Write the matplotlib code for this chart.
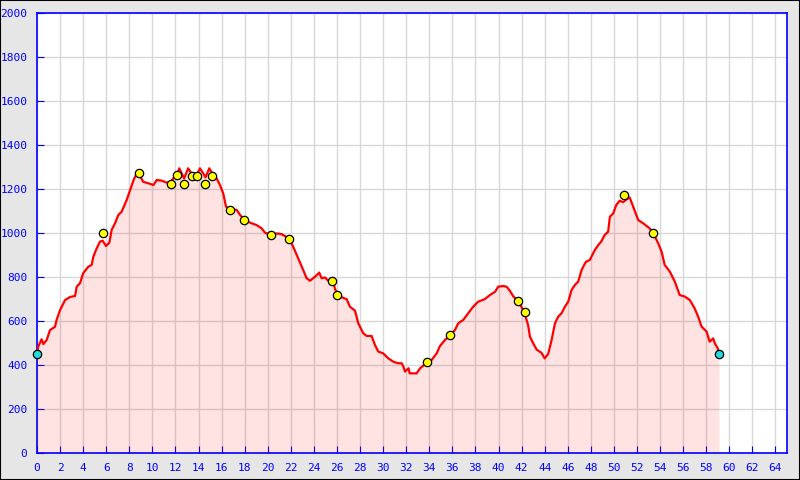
import matplotlib.pyplot as plt
from matplotlib.patches import Rectangle

# Elevation profile: distance (km) vs altitude (m)
dist = [0, 0.1, 0.4, 0.55, 0.84, 1.13, 1.56, 1.7, 2.0, 2.43, 2.86, 3.3, 3.44, 3.73, 4.0,
        4.45, 4.74, 4.88, 5.17, 5.46, 5.69, 5.98, 6.27, 6.47, 6.76, 7.05, 7.34, 7.77, 8.1,
        8.4, 8.7, 8.9, 9.2, 9.65, 10.1, 10.37, 10.8, 11.24, 11.6, 11.8, 12.1, 12.33, 12.54,
        12.75, 13.1, 13.4, 13.7, 13.9, 14.12, 14.41, 14.6, 14.93, 15.22, 15.57, 15.86, 16.14,
        16.38, 16.67, 17.3, 17.6, 17.94, 18.46, 19.04, 19.47, 19.76, 20.28, 20.77, 21.2, 21.84,
        22.2, 22.64, 23.07, 23.37, 23.66, 24.09, 24.46, 24.67, 24.96, 25.24, 25.62, 25.82,
        26.02, 26.4, 26.84, 27.12, 27.56, 27.85, 28.28, 28.57, 29.0, 29.29, 29.58, 30.0,
        30.45, 30.88, 31.3, 31.6, 31.74, 31.9, 32.2, 32.3, 32.9, 33.2, 33.82, 34.2, 34.64,
        34.92, 35.36, 35.8, 36.22, 36.5, 36.94, 37.37, 37.8, 38.24, 38.8, 39.25, 39.7, 39.97,
        40.4, 40.7, 40.99, 41.28, 41.7, 41.97, 42.23, 42.57, 42.72, 43.0, 43.3, 43.73, 44.0,
        44.3, 44.6, 44.89, 45.17, 45.46, 45.75, 46.04, 46.33, 46.62, 46.9, 47.2, 47.49, 47.6,
        47.9, 48.35, 48.64, 48.9, 49.2, 49.5, 49.65, 49.94, 50.2, 50.5, 50.8, 51.1, 51.36,
        51.67, 52.1, 52.54, 53.1, 53.4, 53.84, 54.13, 54.4, 54.85, 55.28, 55.7, 56.15, 56.58,
        57.0, 57.3, 57.6, 58.03, 58.3, 58.6, 58.75, 59.0, 59.1]
elev = [450, 483, 517, 495, 514, 559, 574, 605, 650, 695, 709, 714, 756, 772, 817,
        847, 855, 892, 930, 961, 965, 941, 956, 1014, 1044, 1082, 1097, 1150, 1200,
        1245, 1275, 1262, 1233, 1226, 1218, 1241, 1238, 1229, 1232, 1248, 1262, 1294, 1271,
        1248, 1294, 1270, 1255, 1270, 1294, 1271, 1253, 1294, 1268, 1248, 1218, 1180,
        1120, 1110, 1105, 1082, 1062, 1047, 1036, 1021, 1001, 992, 998, 995, 975,
        938, 885, 832, 794, 783, 801, 820, 794, 798, 783, 785, 748,
        720, 708, 699, 665, 647, 589, 544, 532, 532, 491, 461, 453,
        430, 415, 408, 408, 395, 370, 385, 362, 362, 385, 412, 423, 453,
        486, 514, 535, 559, 589, 605, 635, 665, 688, 699, 718, 733, 756,
        759, 756, 737, 712, 690, 665, 641, 580, 529, 499, 470, 455, 430,
        450, 514, 589, 620, 635, 665, 688, 741, 764, 779, 832, 862, 870,
        877, 923, 945, 961, 991, 1006, 1074, 1089, 1127, 1147, 1140, 1153, 1162,
        1120, 1059, 1044, 1021, 1000, 953, 915, 855, 824, 779, 718, 711, 695,
        657, 620, 574, 552, 506, 521, 498, 476, 450]

# waypoints
wp_dist = [5.75, 8.8, 11.6, 12.1, 12.75, 13.4, 13.9, 14.6, 15.2, 16.7, 17.95, 20.3,
           21.85, 25.6, 26.0, 33.8, 35.8, 41.7, 42.25, 50.9, 53.4]
wp_elev = [1000, 1272, 1223, 1262, 1223, 1259, 1259, 1223, 1259, 1104, 1057, 990,
           972, 782, 718, 413, 536, 690, 641, 1172, 1000]
# start / finish
end_dist = [0, 59.1]
end_elev = [450, 450]

blue = '#0000ff'

fig = plt.figure(figsize=(8, 4.8), dpi=100, facecolor='#e6e6e6')
fig.patches.append(Rectangle((0, 0), 1, 1, transform=fig.transFigure, fill=False,
                             edgecolor='black', linewidth=1.5))
ax = fig.add_axes([37 / 800, 27 / 480, 750 / 800, 440 / 480])
ax.set_facecolor('white')

ax.fill_between(dist, elev, 0, color='#ff0000', alpha=0.11, linewidth=0, zorder=1)
ax.plot(dist, elev, color='#ff0000', linewidth=1.6, zorder=3)
ax.scatter(wp_dist, wp_elev, s=36, color='#ffff00', edgecolors='black', linewidths=0.9, zorder=4)
ax.scatter(end_dist, end_elev, s=36, color='#22dddd', edgecolors='black', linewidths=0.9,
           zorder=4, clip_on=False)

ax.set_xlim(0, 65)
ax.set_ylim(0, 2000)
ax.set_xticks(range(0, 65, 2))
ax.set_yticks(range(0, 2001, 200))
ax.grid(True, color='#d8d8d8', linewidth=1)
ax.set_axisbelow(True)

for s in ax.spines.values():
    s.set_color(blue)
    s.set_linewidth(1.2)
ax.tick_params(direction='in', length=5, color=blue, labelcolor=blue, labelsize=8, pad=7)
for lbl in ax.get_xticklabels() + ax.get_yticklabels():
    lbl.set_family('DejaVu Sans Mono')

fig.savefig('out.png', dpi=100, facecolor=fig.get_facecolor())
